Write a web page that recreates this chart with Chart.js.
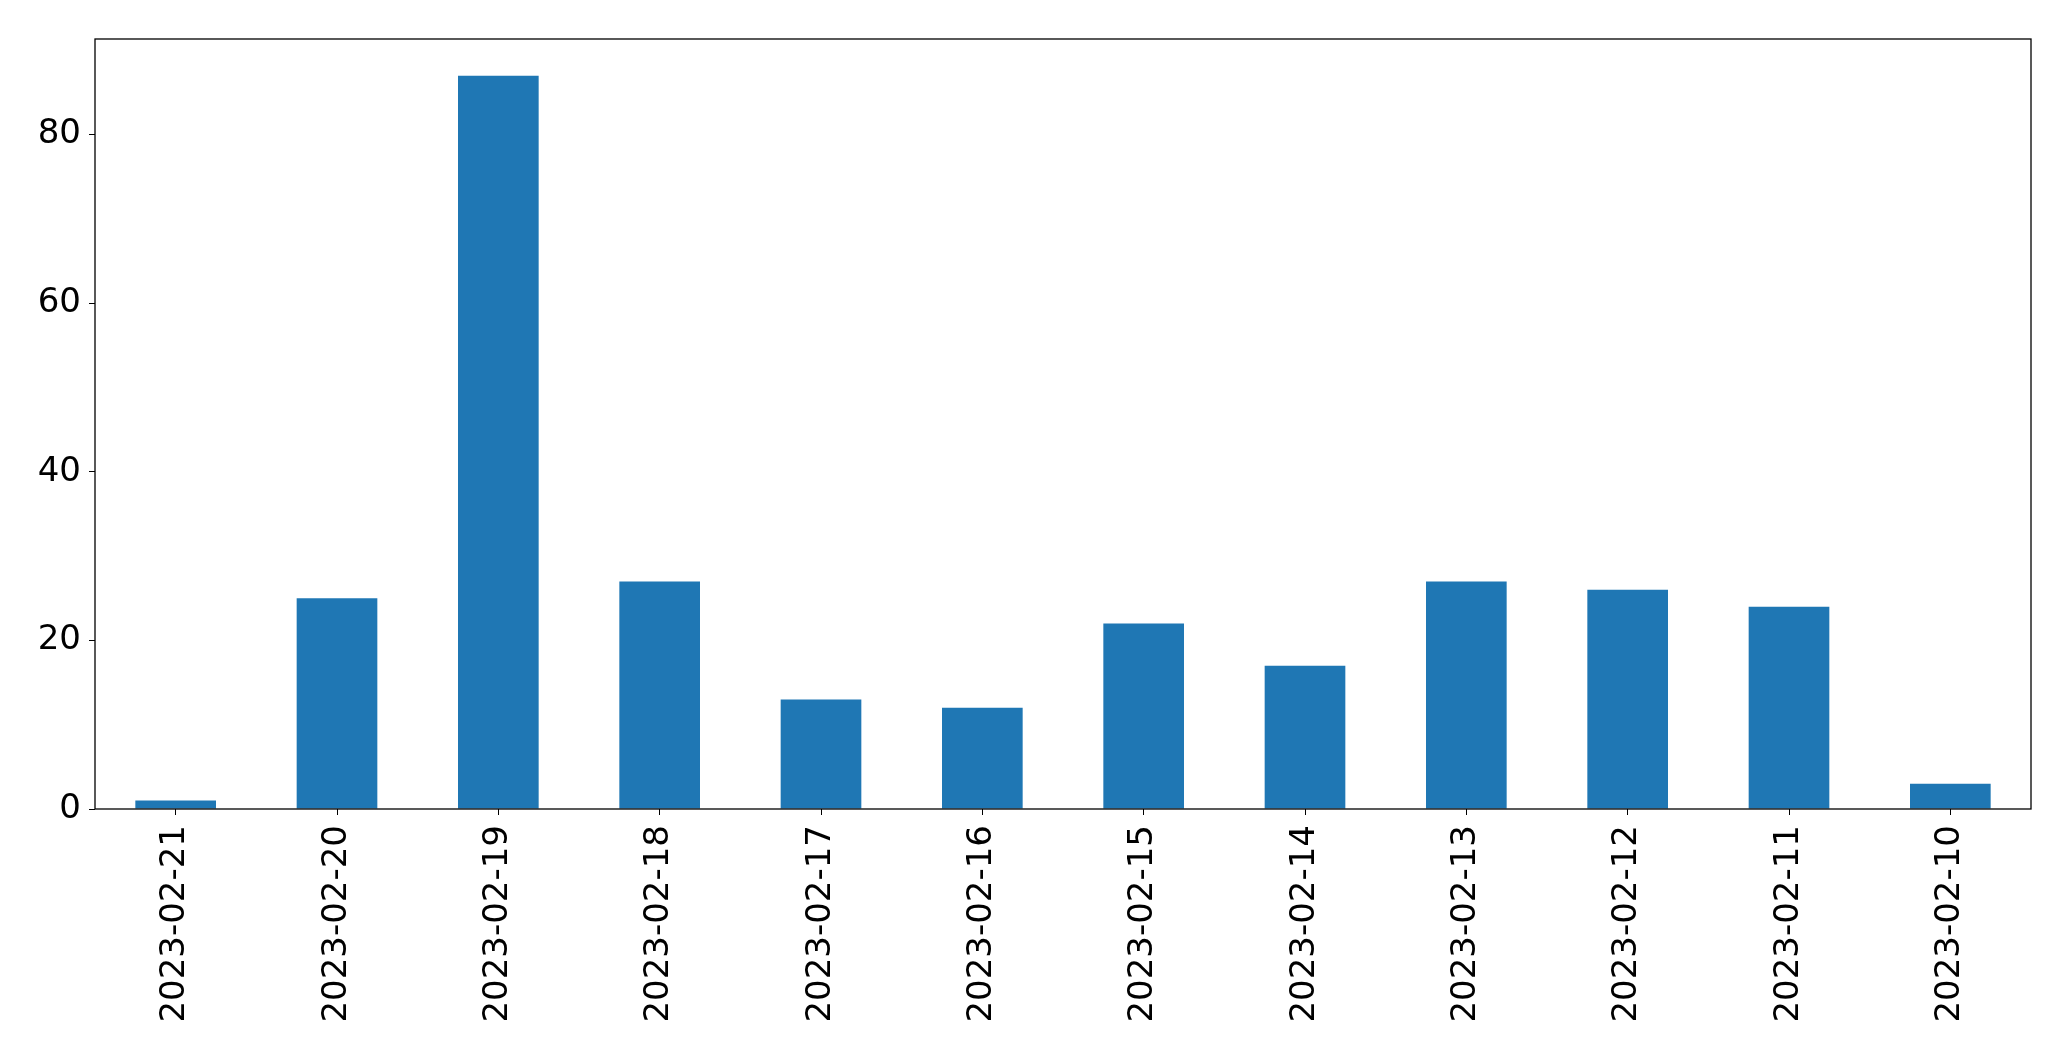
<!DOCTYPE html>
<html>
<head>
<meta charset="utf-8">
<script src="https://cdn.jsdelivr.net/npm/chart.js@4/dist/chart.umd.min.js"></script>
<style>
  html, body { margin: 0; padding: 0; background: #fff; }
  #wrap { width: 2071px; height: 1061px; }
</style>
</head>
<body>
<div id="wrap"><canvas id="chart" width="2071" height="1061"></canvas></div>
<script>
const dates = ['2023-02-21', '2023-02-20', '2023-02-19', '2023-02-18', '2023-02-17', '2023-02-16',
  '2023-02-15', '2023-02-14', '2023-02-13', '2023-02-12', '2023-02-11', '2023-02-10']
const counts = [1, 25, 87, 27, 13, 12, 22, 17, 27, 26, 24, 3]
const yTicks = [0, 20, 40, 60, 80]

// box round the plot area, like matplotlib's spines
const frame = {
  id: 'frame',
  afterDraw(chart) {
    const {ctx, chartArea: a} = chart
    ctx.save()
    ctx.strokeStyle = '#000'
    ctx.lineWidth = 1.3
    ctx.strokeRect(a.left, a.top, a.right - a.left, a.bottom - a.top)
    ctx.restore()
  }
}

Chart.defaults.font.family = '"DejaVu Sans", sans-serif'
Chart.defaults.color = '#000'

new Chart(document.getElementById('chart'), {
  type: 'bar',
  data: {
    labels: dates,
    datasets: [{
      data: counts,
      backgroundColor: '#1f77b4',
      borderWidth: 0,
      categoryPercentage: 1,
      barPercentage: 0.5
    }]
  },
  options: {
    responsive: false,
    animation: false,
    plugins: { legend: { display: false }, tooltip: { enabled: false } },
    layout: { padding: { top: 39, right: 40, left: 0, bottom: 0 } },
    scales: {
      x: {
        grid: { offset: false, drawOnChartArea: false, drawTicks: true, tickLength: 6, color: '#000' },
        border: { display: false },
        ticks: { minRotation: 90, maxRotation: 90, autoSkip: false, padding: 10, font: { size: 34 } },
        afterFit: axis => { axis.height = 252 }
      },
      y: {
        min: 0,
        max: 91.35,
        grid: { drawOnChartArea: false, drawTicks: true, tickLength: 6, color: '#000' },
        border: { display: false },
        ticks: { stepSize: 20, padding: 8, font: { size: 34 } },
        afterBuildTicks: axis => { axis.ticks = yTicks.map(v => ({value: v})) },
        afterFit: axis => { axis.width = 95 }
      }
    }
  },
  plugins: [frame]
})
</script>
</body>
</html>
